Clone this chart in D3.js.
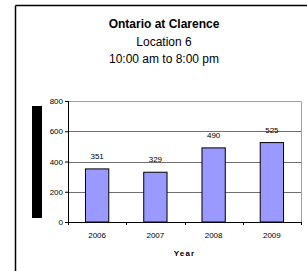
<!DOCTYPE html>
<html>
<head>
<meta charset="utf-8">
<script src="https://cdnjs.cloudflare.com/ajax/libs/d3/7.8.5/d3.min.js"></script>
<style>
  body { margin: 0; background: #fff; }
  svg { display: block; font-family: "Liberation Sans", Arial, sans-serif; }
</style>
</head>
<body>
<div id="chart"></div>
<script>
'use strict'
const years = ['2006', '2007', '2008', '2009'];
const counts = [351, 329, 490, 525];
const yTicks = [0, 200, 400, 600, 800];
const titleLines = ['Ontario at Clarence', 'Location 6', '10:00 am to 8:00 pm'];
const xTitle = 'Year';

let W = 307, H = 271;
let margin = {top: 101, right: 6, bottom: 49, left: 68};
let width = W - margin.left - margin.right;
let height = H - margin.top - margin.bottom;
let small = '8px';

let svg = d3.select('#chart')
  .append('svg')
  .attr('width', W)
  .attr('height', H);

// outer frame (top + left only visible)
svg.append('line')
  .attr('x1', 15.5).attr('x2', W).attr('y1', 5.5).attr('y2', 5.5)
  .attr('stroke', '#000').attr('stroke-width', 1.5);
svg.append('line')
  .attr('x1', 15.5).attr('x2', 15.5).attr('y1', 5.5).attr('y2', H)
  .attr('stroke', '#000').attr('stroke-width', 1.5);

// title
let tY = [28, 46, 63];
titleLines.forEach(function(t, i) {
  svg.append('text')
    .attr('x', 164)
    .attr('y', tY[i])
    .attr('text-anchor', 'middle')
    .attr('font-size', '12px')
    .attr('font-weight', i === 0 ? 'bold' : 'normal')
    .attr('fill', '#000')
    .text(t);
});

// black block on the left (axis title placeholder)
svg.append('rect')
  .attr('x', 32).attr('y', 106)
  .attr('width', 10).attr('height', 112)
  .attr('fill', '#000');

let g = svg.append('g')
  .attr('transform', 'translate(' + margin.left + ',' + margin.top + ')');

let x = d3.scaleBand()
  .domain(years)
  .range([0, width])
  .paddingInner(0.6)
  .paddingOuter(0.3);
let y = d3.scaleLinear()
  .domain([0, 800])
  .range([height, 0]);

// plot border (top/right)
g.append('path')
  .attr('d', 'M0,0.5H' + (width + 0.5) + 'V' + height)
  .attr('fill', 'none')
  .attr('stroke', '#a0a0a0');

// gridlines
g.selectAll('.grid')
  .data(yTicks.filter(function(d) { return d > 0 && d < 800; }))
  .enter().append('line')
  .attr('class', 'grid')
  .attr('x1', 0).attr('x2', width)
  .attr('y1', function(d) { return Math.round(y(d)) + 0.5; })
  .attr('y2', function(d) { return Math.round(y(d)) + 0.5; })
  .attr('stroke', '#707070');

// bars
g.selectAll('.bar')
  .data(counts)
  .enter().append('rect')
  .attr('class', 'bar')
  .attr('x', function(d, i) { return x(years[i]); })
  .attr('y', function(d) { return y(d); })
  .attr('width', x.bandwidth())
  .attr('height', function(d) { return height - y(d); })
  .attr('fill', '#9999ff')
  .attr('stroke', '#000')
  .attr('stroke-width', 1);

// value labels
g.selectAll('.val')
  .data(counts)
  .enter().append('text')
  .attr('class', 'val')
  .attr('x', function(d, i) { return x(years[i]) + x.bandwidth() / 2; })
  .attr('y', function(d) { return y(d) - 10; })
  .attr('text-anchor', 'middle')
  .attr('font-size', small)
  .attr('fill', '#000')
  .text(function(d) { return d; });

// y axis
let yAxis = d3.axisLeft(y)
  .tickValues(yTicks)
  .tickSize(3)
  .tickPadding(2);
let yG = g.append('g').call(yAxis);
yG.select('.domain').attr('d', 'M0.5,0V' + height).attr('stroke', '#000');
yG.selectAll('.tick text').attr('font-size', small).attr('font-family', 'Liberation Sans, Arial, sans-serif').attr('fill', '#000');

// x axis: ticks at band boundaries
let step = x.step();
let x0 = x(years[0]) - step * x.paddingOuter() ;
let bounds = d3.range(years.length + 1).map(function(i) { return x0 + i * step; });
g.append('line')
  .attr('x1', 0).attr('x2', width + 1)
  .attr('y1', height + 0.5).attr('y2', height + 0.5)
  .attr('stroke', '#000');
g.selectAll('.xtick')
  .data(bounds)
  .enter().append('line')
  .attr('class', 'xtick')
  .attr('x1', function(d) { return Math.round(d) + 0.5; })
  .attr('x2', function(d) { return Math.round(d) + 0.5; })
  .attr('y1', height).attr('y2', height + 3)
  .attr('stroke', '#000');
g.selectAll('.xlab')
  .data(years)
  .enter().append('text')
  .attr('class', 'xlab')
  .attr('x', function(d) { return x(d) + x.bandwidth() / 2; })
  .attr('y', height + 16)
  .attr('text-anchor', 'middle')
  .attr('font-size', small)
  .attr('fill', '#000')
  .text(function(d) { return d; });

g.append('text')
  .attr('x', width / 2)
  .attr('y', height + 34)
  .attr('text-anchor', 'middle')
  .attr('font-size', small)
  .attr('font-weight', 'bold')
  .attr('letter-spacing', '1.2px')
  .attr('fill', '#000')
  .text(xTitle);
</script>
</body>
</html>
